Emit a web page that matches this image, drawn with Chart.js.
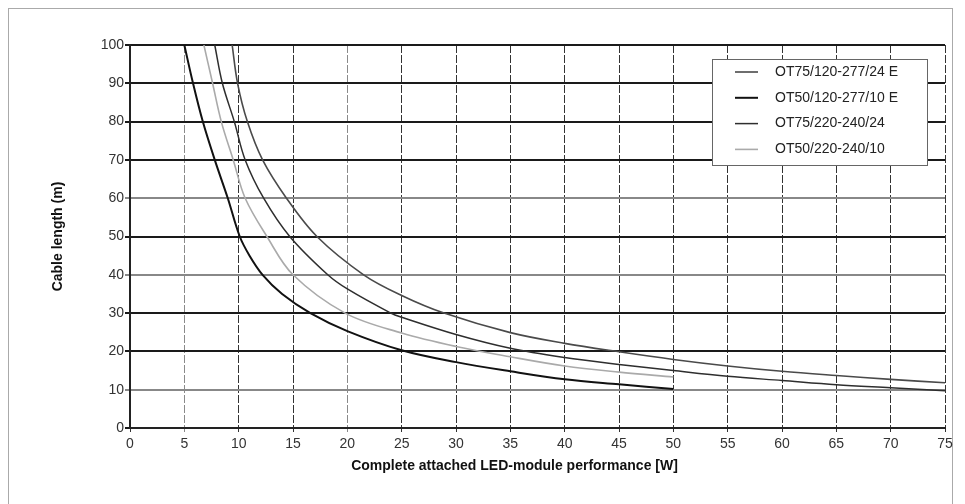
<!DOCTYPE html>
<html>
<head>
<meta charset="utf-8">
<script src="https://cdn.jsdelivr.net/npm/chart.js@4"></script>
<style>
  html, body { margin: 0; padding: 0; background: #fff; }
  #wrap { position: relative; width: 965px; height: 504px; overflow: hidden; }
  #frame { position: absolute; left: 8px; top: 8px; width: 945px; height: 520px; border: 1px solid #aaa; box-sizing: border-box; }
  canvas { position: absolute; left: 0; top: 0; }
</style>
</head>
<body>
<div id="wrap">
  <div id="frame"></div>
  <canvas id="chart" width="965" height="504"></canvas>
</div>
<script>
// Curvas: potencia LED (W) -> longitud de cable (m)
const seriesLabels = ['OT75/120-277/24 E', 'OT50/120-277/10 E', 'OT75/220-240/24', 'OT50/220-240/10'];

const ot75eX = [9.4, 9.9, 10.8, 12.2, 14.4, 17.2, 21.5, 25, 28.9, 35, 40, 45, 50, 55, 60, 65, 70, 75];
const ot75eY = [100, 90, 80, 70, 60, 50, 40, 34.6, 30, 24.9, 22.1, 19.9, 17.9, 16.2, 14.8, 13.7, 12.7, 11.8];

const ot50eX = [5, 5.8, 6.7, 7.8, 9.0, 10.1, 11, 12.2, 14, 16.6, 20, 25, 30, 35, 40, 45, 50];
const ot50eY = [100, 90, 80, 70, 60, 50, 45, 40, 35, 30, 25.3, 20.3, 17.2, 14.8, 12.7, 11.4, 10.2];

const ot75X = [7.8, 8.5, 9.6, 10.6, 12.3, 14.7, 18.2, 20, 24, 25, 30, 35, 40, 45, 50, 55, 60, 65, 70, 75];
const ot75Y = [100, 90, 80, 70, 60, 50, 40, 36.3, 30, 28.9, 24.4, 20.8, 18.4, 16.6, 15, 13.5, 12.4, 11.3, 10.5, 9.7];

const ot50X = [6.8, 7.6, 8.4, 9.5, 10.6, 12.6, 15, 19.8, 25, 30, 35, 40, 45, 50];
const ot50Y = [100, 90, 80, 70, 60, 50, 40, 30, 24.8, 21.3, 18.6, 16.2, 14.6, 13.3];

const xTicks = [0, 5, 10, 15, 20, 25, 30, 35, 40, 45, 50, 55, 60, 65, 70, 75];
const yTicks = [0, 10, 20, 30, 40, 50, 60, 70, 80, 90, 100];

const xTitle = 'Complete attached LED-module performance [W]';
const yTitle = 'Cable length (m)';

const FONT = "'Liberation Sans', Arial, sans-serif";

function toPoints(xs, ys) {
    return xs.map((x, i) => ({ x: x, y: ys[i] }));
}

function curve(label, xs, ys, color, width) {
    return {
        label: label,
        data: toPoints(xs, ys),
        borderColor: color,
        borderWidth: width,
        pointRadius: 0,
        fill: false,
        tension: 0.35
    };
}

// Leyenda dentro del área del gráfico, como en el original
const boxLegend = {
    id: 'boxLegend',
    afterDraw(chart) {
        const ctx = chart.ctx;
        const x0 = 712, y0 = 59, w = 215, h = 106;
        ctx.save();
        ctx.fillStyle = '#fff';
        ctx.fillRect(x0, y0, w, h);
        ctx.strokeStyle = '#666';
        ctx.lineWidth = 1;
        ctx.strokeRect(x0 + 0.5, y0 + 0.5, w, h);
        ctx.font = '14px ' + FONT;
        ctx.textBaseline = 'middle';
        chart.data.datasets.forEach((ds, i) => {
            const yy = y0 + 13 + i * 25.8;
            ctx.strokeStyle = ds.borderColor;
            ctx.lineWidth = ds.borderWidth;
            ctx.beginPath();
            ctx.moveTo(735, yy);
            ctx.lineTo(758, yy);
            ctx.stroke();
            ctx.fillStyle = '#222';
            ctx.fillText(ds.label, 775, yy);
        });
        ctx.restore();
    }
};

// Título del eje X desplazado a la izquierda como en el original
const xAxisTitle = {
    id: 'xAxisTitle',
    afterDraw(chart) {
        const ctx = chart.ctx;
        const area = chart.chartArea;
        ctx.save();
        ctx.font = 'bold 14px ' + FONT;
        ctx.fillStyle = '#111';
        ctx.textAlign = 'center';
        ctx.textBaseline = 'middle';
        ctx.fillText(xTitle, area.left + (area.right - area.left) / 2 - 23, area.bottom + 38);
        ctx.restore();
    }
};

const grayH = [10, 40, 60];
const grayV = [5, 20];

new Chart(document.getElementById('chart'), {
    type: 'line',
    data: {
        datasets: [
            curve(seriesLabels[0], ot75eX, ot75eY, '#4a4a4a', 1.6),
            curve(seriesLabels[1], ot50eX, ot50eY, '#111', 2),
            curve(seriesLabels[2], ot75X, ot75Y, '#2e2e2e', 1.5),
            curve(seriesLabels[3], ot50X, ot50Y, '#aaa', 1.6)
        ]
    },
    options: {
        responsive: false,
        animation: false,
        events: [],
        layout: { padding: { left: 45, top: 45, right: 20, bottom: 28 } },
        plugins: {
            legend: { display: false },
            tooltip: { enabled: false }
        },
        scales: {
            x: {
                type: 'linear',
                min: 0,
                max: 75,
                afterBuildTicks: (scale) => { scale.ticks = xTicks.map(v => ({ value: v })); },
                afterFit: (scale) => { scale.height = 48; },
                ticks: {
                    font: { family: FONT, size: 14 },
                    color: '#333',
                    padding: 4,
                    maxRotation: 0
                },
                grid: {
                    color: (c) => grayV.includes(c.tick && c.tick.value) ? '#8a8a8a' : '#333',
                    lineWidth: 1,
                    tickLength: 4
                },
                border: { color: '#222', width: 2, dash: [8, 2] },
                title: { display: false, text: xTitle }
            },
            y: {
                type: 'linear',
                min: 0,
                max: 100,
                afterBuildTicks: (scale) => { scale.ticks = yTicks.map(v => ({ value: v })); },
                afterFit: (scale) => { scale.width = 85; },
                ticks: {
                    font: { family: FONT, size: 14 },
                    color: '#333',
                    padding: 1
                },
                grid: {
                    color: (c) => grayH.includes(c.tick && c.tick.value) ? '#888' : '#1a1a1a',
                    lineWidth: 2,
                    tickLength: 5
                },
                border: { color: '#222', width: 2 },
                title: {
                    display: true,
                    text: yTitle,
                    font: { family: FONT, size: 14, weight: 'bold' },
                    color: '#111',
                    padding: { top: 5, bottom: 0 }
                }
            }
        }
    },
    plugins: [boxLegend, xAxisTitle]
});
</script>
</body>
</html>
